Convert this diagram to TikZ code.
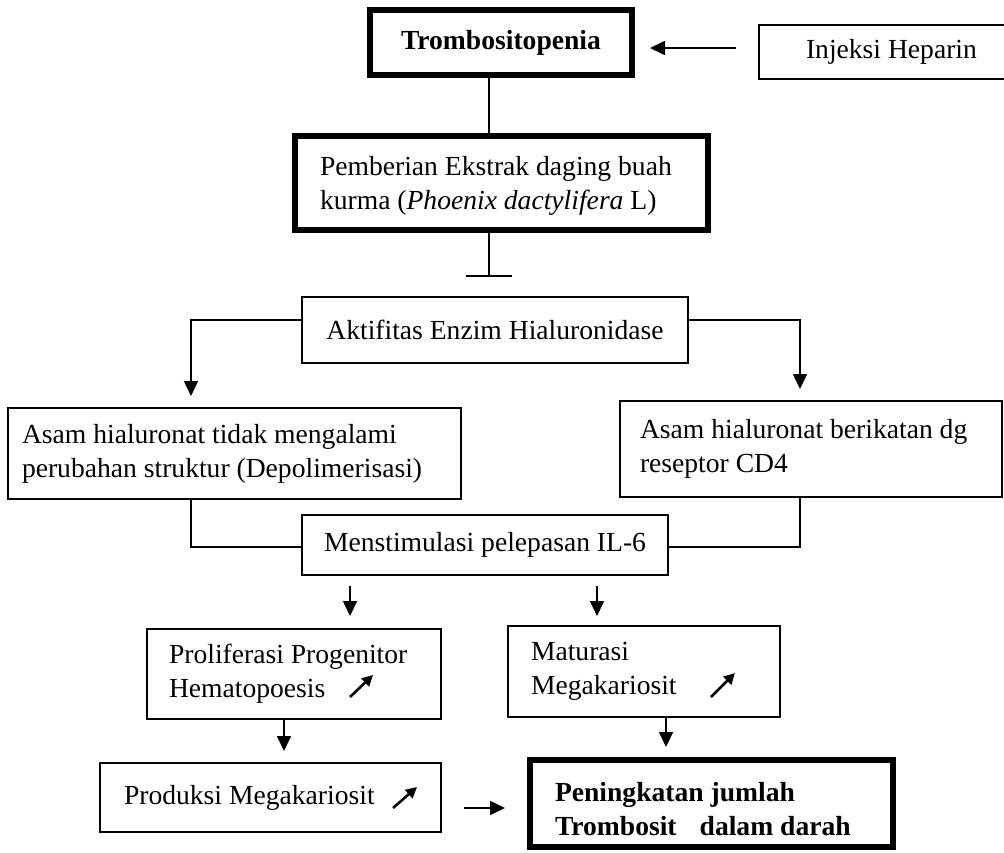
\documentclass[tikz,border=0pt]{standalone}
\usepackage{fontspec}
\setmainfont{Liberation Serif}
\usetikzlibrary{arrows.meta}
\begin{document}
\begin{tikzpicture}[x=1pt,y=-1pt,
  font=\fontsize{27.6}{34}\selectfont,
  box/.style={draw, line width=2pt, inner sep=0pt},
  tbox/.style={draw, line width=6pt, inner sep=0pt},
  lbox/.style={align=flush left},
  conn/.style={line width=1.6pt},
  arr/.style={conn, -{Triangle[length=15pt,width=14pt]}},
  uparr/.style={line width=2.6pt, -{Triangle[length=11pt,width=11pt]}}
]
\clip (0,0) rectangle (1004,852);
\fill[white] (0,0) rectangle (1004,852);

% nodes
\node[tbox, minimum width=262pt, minimum height=65pt] (trombo) at (501,42.5) {\textbf{Trombositopenia}};
\node[box, lbox, minimum height=54pt, text width=217pt, inner xsep=47pt] (inj) at (914.5,52) {Injeksi Heparin};
\node[tbox, lbox, text width=363pt, inner xsep=25pt, minimum height=94pt] (pemb) at (501.5,183) {\rule{0pt}{25pt}Pemberian Ekstrak daging buah\\kurma (\textit{Phoenix dactylifera} L)};
\node[box, minimum width=386pt, minimum height=66pt] (akt) at (495,330) {Aktifitas Enzim Hialuronidase};
\node[box, lbox, text width=425pt, inner xsep=14pt, minimum height=91pt] (asam1) at (234.5,453.5) {Asam hialuronat tidak mengalami\\perubahan struktur (Depolimerisasi)};
\node[box, lbox, text width=342pt, inner xsep=20pt, minimum height=96pt] (asam2) at (811,449) {Asam hialuronat berikatan dg\\reseptor CD4};
\node[box, minimum width=366pt, minimum height=60pt] (menst) at (485,545) {Menstimulasi pelepasan IL-6};
\node[box, lbox, text width=250pt, inner xsep=22pt, minimum height=90pt] (prolif) at (294,674) {Proliferasi Progenitor\\Hematopoesis};
\node[box, lbox, text width=226pt, inner xsep=23pt, minimum height=91pt] (matur) at (644,671.5) {Maturasi\\Megakariosit};
\node[box, lbox, text width=293pt, inner xsep=24pt, minimum height=69pt] (prod) at (270.5,797.5) {Produksi Megakariosit};
\node[tbox, lbox, text width=313pt, inner xsep=25pt, minimum height=87pt] (pen) at (711.5,803.5) {\rule{0pt}{31pt}\textbf{Peningkatan jumlah}\\\textbf{Trombosit\hspace{23pt}dalam darah}};

% connectors
\draw[arr, shorten <=22pt, shorten >=15pt] ([yshift=4pt]inj.west) -- ([yshift=-5.5pt]trombo.east);
\draw[conn] ([xshift=-12pt]trombo.south) -- ([xshift=-12.5pt]pemb.north);
\coordinate (tbar) at (489,277);
\draw[conn, -{Bar[width=46pt]}] (pemb.south -| tbar) -- (tbar);

\draw[arr, shorten >=11pt] ([yshift=10pt]akt.west) -| ([xshift=-43.5pt]asam1.north);
\draw[arr, shorten >=11pt] ([yshift=10pt]akt.east) -| ([xshift=-11pt]asam2.north);
\draw[conn] ([xshift=-43.5pt]asam1.south) |- ([yshift=-2pt]menst.west);
\draw[conn] ([xshift=-11pt]asam2.south) |- ([yshift=-2pt]menst.east);

\draw[arr, shorten <=10pt, shorten >=12pt] ([xshift=-135pt]menst.south) -- ([xshift=56pt]prolif.north);
\draw[arr, shorten <=10pt, shorten >=9pt] ([xshift=112pt]menst.south) -- ([xshift=-47pt]matur.north);
\draw[arr, shorten >=11pt] ([xshift=-10pt]prolif.south) -- ([xshift=13.5pt]prod.north);
\draw[arr, shorten >=10pt] ([xshift=22pt]matur.south) -- ([xshift=-45.5pt]pen.north);
\draw[arr, shorten <=22pt, shorten >=22pt] ([yshift=-10.5pt]prod.east) -- ([yshift=-4.5pt]pen.west);

% increase arrows
\draw[uparr] ([xshift=56pt,yshift=-23pt]prolif.center) -- ++(23,-22);
\draw[uparr] ([xshift=67pt,yshift=-25.5pt]matur.center) -- ++(24,-24);
\draw[uparr] ([xshift=122.5pt,yshift=-10.5pt]prod.center) -- ++(24,-21);
\end{tikzpicture}
\end{document}
